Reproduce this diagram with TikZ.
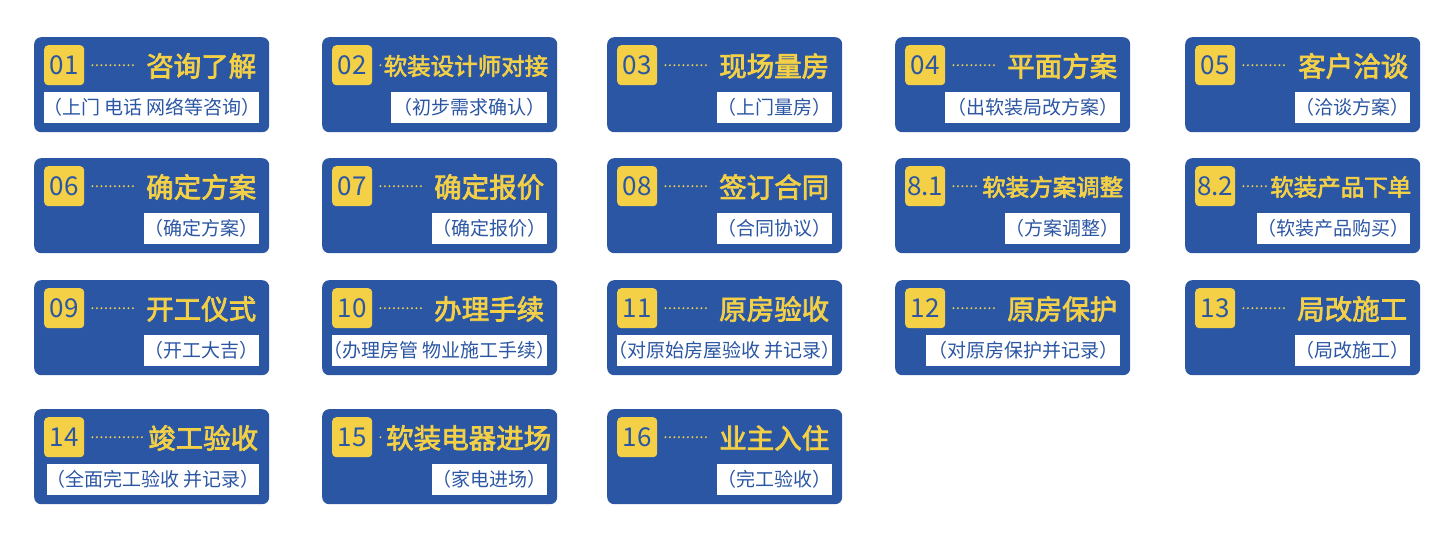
\documentclass[tikz,border=0pt]{standalone}
\usepackage{fontspec}
\newfontfamily\cjk{Noto Sans CJK SC}
\newfontfamily\cjkmid[FakeBold=2.6]{Noto Sans CJK SC}
\definecolor{cardblue}{HTML}{2B56A3}
\definecolor{cardyellow}{HTML}{F3D046}
\tikzset{
  cardbox/.style={fill=cardblue, rounded corners=7pt, minimum width=235pt, minimum height=95pt, inner sep=0pt},
  numbox/.style={fill=cardyellow, rounded corners=4pt, minimum size=40pt, inner sep=0pt, text=cardblue, font=\cjk\fontsize{26}{26}\selectfont},
  titletext/.style={text=cardyellow, inner sep=0pt},
  dotline/.style={cardyellow, line width=2.2pt, line cap=round, dash pattern=on 0pt off 4.5pt},
  subbox/.style={fill=white, minimum height=31pt, inner ysep=0pt, text=cardblue, font=\cjk\fontsize{19}{19}\selectfont},
  card/.cd,
  tsize/.store in=\cardtsize,
  tmargin/.store in=\cardtmargin,
  dgap/.store in=\carddgap,
  ssep/.store in=\cardssep
}
% [options] {name}{x}{y}{number}{title}{subtitle}
\newcommand\flowcard[7][]{%
  \begingroup
  \tikzset{card/.cd, tsize=27.5, tmargin=13, dgap=10, ssep=2, #1}%
  \node[cardbox, anchor=north west] (#2) at (#3,#4) {};
  \node[numbox, anchor=north west] (#2n) at ([xshift=10pt,yshift=-8pt]#2.north west) {#5};
  \node[titletext, font=\cjkmid\fontsize{\cardtsize}{\cardtsize}\selectfont, anchor=east] (#2t) at ([xshift=-\cardtmargin pt,yshift=-29pt]#2.north east) {#6};
  \draw[dotline] ([xshift=8pt]#2n.east) -- ([xshift=-\carddgap pt]#2n.east -| #2t.west);
  \node[subbox, inner xsep=\cardssep pt, anchor=east] (#2s) at ([xshift=-10pt,yshift=-70.5pt]#2.north east) {#7};
  \endgroup
}
\begin{document}
\begin{tikzpicture}[x=1pt,y=-1pt]
\fill[white] (0,0) rectangle (1440,538);
\useasboundingbox (0,0) rectangle (1440,538);
% row 1
\flowcard[ssep=-1.35]{ca}{34}{37}{01}{咨询了解}{（上门 电话 网络等咨询）}
\flowcard[tsize=23.5, tmargin=9, dgap=3]{cb}{322}{37}{02}{软装设计师对接}{（初步需求确认）}
\flowcard[ssep=0.5]{cc}{607}{37}{03}{现场量房}{（上门量房）}
\flowcard{cd}{895}{37}{04}{平面方案}{（出软装局改方案）}
\flowcard[tmargin=12, ssep=0.5]{ce}{1185}{37}{05}{客户洽谈}{（洽谈方案）}
% row 2
\flowcard[ssep=0.5]{cf}{34}{158}{06}{确定方案}{（确定方案）}
\flowcard[ssep=0.5]{cg}{322}{158}{07}{确定报价}{（确定报价）}
\flowcard[ssep=0.5]{ch}{607}{158}{08}{签订合同}{（合同协议）}
\flowcard[tsize=23.5, tmargin=7, dgap=2, ssep=0.5]{ci}{895}{158}{8.1}{软装方案调整}{（方案调整）}
\flowcard[tsize=23.5, tmargin=9, dgap=2, ssep=0.5]{cj}{1185}{158}{8.2}{软装产品下单}{（软装产品购买）}
% row 3
\flowcard[ssep=0.5]{ck}{34}{280}{09}{开工仪式}{（开工大吉）}
\flowcard[ssep=-8.7]{cl}{322}{280}{10}{办理手续}{（办理房管 物业施工手续）}
\flowcard[ssep=-8.7]{cm}{607}{280}{11}{原房验收}{（对原始房屋验收 并记录）}
\flowcard{cn}{895}{280}{12}{原房保护}{（对原房保护并记录）}
\flowcard[ssep=0.5]{co}{1185}{280}{13}{局改施工}{（局改施工）}
% row 4
\flowcard[tmargin=11, dgap=2, ssep=-0.7]{cp}{34}{409}{14}{竣工验收}{（全面完工验收 并记录）}
\flowcard[tmargin=6, dgap=6, ssep=0.5]{cq}{322}{409}{15}{软装电器进场}{（家电进场）}
\flowcard[ssep=0.5]{cr}{607}{409}{16}{业主入住}{（完工验收）}
\end{tikzpicture}
\end{document}
